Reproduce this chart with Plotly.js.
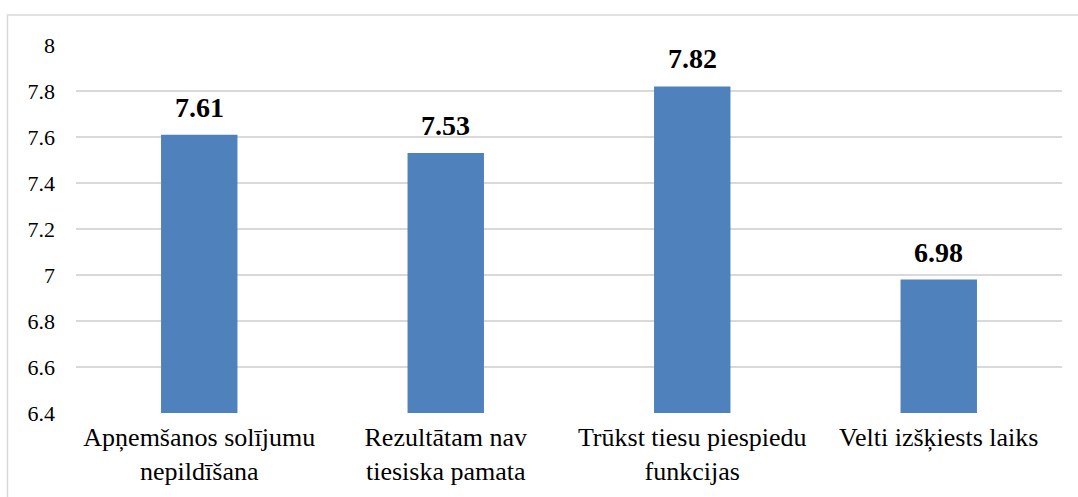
<!DOCTYPE html>
<html>
<head>
<meta charset="utf-8">
<script src="https://cdn.plot.ly/plotly-3.0.1.min.js"></script>
</head>
<body style="margin:0">
<div id="chart" style="width:1078px;height:497px"></div>
<script>
const categories = [
  "Apņemšanos solījumu<br>nepildīšana",
  "Rezultātam nav<br>tiesiska pamata",
  "Trūkst tiesu piespiedu<br>funkcijas",
  "Velti izšķiests laiks"
];
const values = [7.61, 7.53, 7.82, 6.98];
const valueLabels = ["7.61", "7.53", "7.82", "6.98"];
const yTicks = [6.4, 6.6, 6.8, 7, 7.2, 7.4, 7.6, 7.8, 8];
const yTickLabels = ["6.4", "6.6", "6.8", "7", "7.2", "7.4", "7.6", "7.8", "8"];

const serif = "Liberation Serif";

const annotations = categories.map((c, i) => ({
  x: c, y: values[i], xref: "x", yref: "y",
  text: "<b>" + valueLabels[i] + "</b>",
  showarrow: false, yanchor: "bottom", yshift: 10,
  font: {family: serif, size: 28, color: "#000"}
}));

Plotly.newPlot("chart", [{
  type: "bar",
  x: categories,
  y: values,
  marker: {color: "#4F81BD"}
}], {
  width: 1078, height: 497,
  margin: {l: 76, r: 16, t: 45, b: 84},
  paper_bgcolor: "#fff", plot_bgcolor: "#fff",
  bargap: 0.69,
  showlegend: false,
  font: {family: serif, color: "#000"},
  xaxis: {
    type: "category",
    tickfont: {family: serif, size: 26, color: "#000"},
    showgrid: false, zeroline: false, showline: false,
    ticks: "", ticklabelstandoff: 6, automargin: false
  },
  yaxis: {
    range: [6.4, 8],
    tickvals: yTicks, ticktext: yTickLabels,
    tickfont: {family: serif, size: 22, color: "#000"},
    showgrid: true, gridcolor: "#d9d9d9", gridwidth: 1.5,
    zeroline: false, showline: false, ticks: "",
    ticklabelstandoff: 20, automargin: false
  },
  annotations: annotations,
  shapes: [{
    type: "rect", xref: "paper", yref: "paper",
    x0: -0.0695, x1: 1.03, y0: -0.4, y1: 1.0815,
    line: {color: "#d9d9d9", width: 1.5}, fillcolor: "rgba(0,0,0,0)", layer: "below"
  }]
}, {displayModeBar: false});
</script>
</body>
</html>
